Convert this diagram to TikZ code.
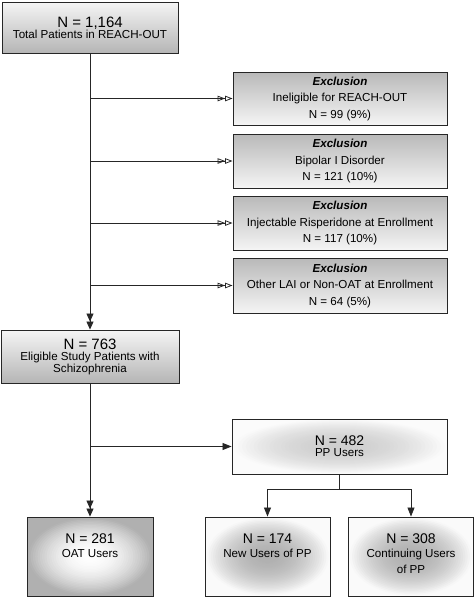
\documentclass[tikz,border=0pt]{standalone}
\usepackage{fontspec}
\setmainfont{Liberation Sans}
\usetikzlibrary{arrows.meta,calc}
\newcommand\nbig{\fontsize{15}{16}\selectfont}
\newcommand\nmid{\fontsize{14}{16}\selectfont}
\newcommand\nsub{\fontsize{11.6}{15.5}\selectfont}
\newcommand\exsz{\fontsize{11.6}{16.5}\selectfont}
\begin{document}
\begin{tikzpicture}[x=1pt,y=1pt,
  box/.style={draw=black!85,line width=0.9pt,align=center,inner sep=0pt},
  lingrad/.style={box,top color=gray!8,bottom color=gray!58},
  exgrad/.style={box,top color=gray!55,bottom color=gray!8,font=\exsz},
  radbox/.style n args={4}{box,path picture={
    \colorlet{radin}{#1}\colorlet{radout}{#2}
    \foreach \k in {0,...,39}{
      \pgfmathsetmacro\f{1.45*(1-\k/40)}
      \pgfmathsetmacro\p{max(0,min(100,100*(1-\f*\f)))}
      \fill[radin!\p!radout] (path picture bounding box.center)
        ellipse [x radius=\f*#3, y radius=\f*#4];
    }}},
  pprad/.style={radbox={gray!38}{gray!3}{107.5}{27.5}},
  darkrad/.style={radbox={gray!62}{gray!4}{62.5}{39.5}},
  lightrad/.style={radbox={white}{gray!62}{63}{39.5}},
  conn/.style={line width=0.8pt,draw=black!85},
  exarrow/.style={conn,-{Triangle[open,length=7.5pt,width=5.5pt]Triangle[open,length=7.5pt,width=5.5pt]}},
  dblarrow/.style={conn,-{Triangle[length=8pt,width=7pt]Triangle[length=8pt,width=7pt]}},
  sarrow/.style={conn,-{Triangle[length=9pt,width=7pt]}}
]
\useasboundingbox (0,0) rectangle (474,-598);

\node[lingrad,minimum width=176,minimum height=51] (top) at (90,-27.5)
  {\nbig N = 1,164\\[-1pt]\nsub Total Patients in REACH-OUT};

\node[exgrad,minimum width=214,minimum height=53] (ex1) at (340,-98.5)
  {\textbf{\textit{Exclusion}}\\Ineligible for REACH-OUT\\N = 99 (9\%)};
\node[exgrad,minimum width=214,minimum height=54] (ex2) at (340,-161)
  {\textbf{\textit{Exclusion}}\\Bipolar I Disorder\\N = 121 (10\%)};
\node[exgrad,minimum width=214,minimum height=54] (ex3) at (340,-223)
  {\textbf{\textit{Exclusion}}\\Injectable Risperidone at Enrollment\\N = 117 (10\%)};
\node[exgrad,minimum width=214,minimum height=55] (ex4) at (340,-285.5)
  {\textbf{\textit{Exclusion}}\\Other LAI or Non-OAT at Enrollment\\N = 64 (5\%)};

\node[lingrad,minimum width=178,minimum height=53] (elig) at (90,-356.5)
  {\nbig N = 763\\[-1pt]\nsub Eligible Study Patients with\\\nsub Schizophrenia};

\node[pprad,minimum width=215,minimum height=55] (pp) at (339.5,-446.5)
  {\nmid N = 482\\[-1pt]\nsub PP Users};

\node[lightrad,minimum width=126,minimum height=79] (oat) at (90,-556.5)
  {\parbox[c][46pt][t]{120pt}{\centering\nmid N = 281\\[-1pt]\nsub OAT Users}};
\node[darkrad,minimum width=125,minimum height=79] (new) at (267.5,-556.5)
  {\parbox[c][46pt][t]{120pt}{\centering\nmid N = 174\\[-1pt]\nsub New Users of PP}};
\node[darkrad,minimum width=125,minimum height=79] (cont) at (411,-556.5)
  {\parbox[c][46pt][t]{120pt}{\centering\nmid N = 308\\[-1pt]\nsub Continuing Users\\of PP}};

\draw[dblarrow] (top.south) -- (elig.north);
\foreach \e in {ex1,ex2,ex3,ex4}
  \draw[exarrow] (top.south |- \e.west) -- (\e.west);

\draw[dblarrow] (elig.south) -- (oat.north);
\draw[sarrow] (elig.south |- pp.west) -- (pp.west);

\coordinate (split) at ($(pp.south)+(0,-15)$);
\draw[conn] (pp.south) -- (split);
\draw[sarrow] (split) -| (new.north);
\draw[sarrow] (split) -| (cont.north);
\end{tikzpicture}
\end{document}
